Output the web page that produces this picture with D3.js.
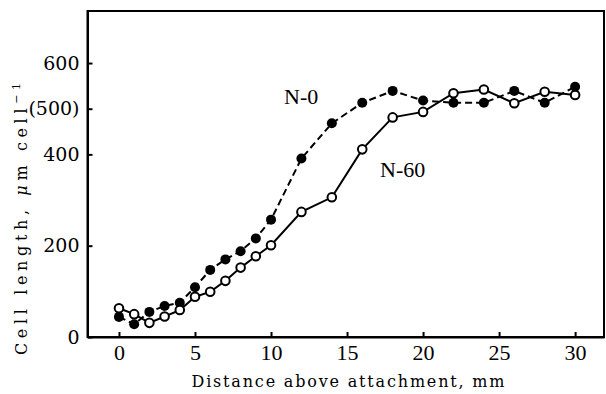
<!DOCTYPE html>
<html>
<head>
<meta charset="utf-8">
<script src="https://cdn.jsdelivr.net/npm/d3@7"></script>
<style>
  body { margin: 0; background: #fff; }
  svg { display: block; }
  .axis path, .axis line { stroke: #000; stroke-width: 2; }
  .axis text { fill: #000; }
  .xaxis text { font-family: "Liberation Serif", serif; font-size: 22px; }
  .yaxis text { font-family: "DejaVu Serif", serif; font-size: 19px; }
  .title { font-family: "DejaVu Serif", serif; font-size: 16px; fill: #000; }
  .label { font-family: "Liberation Serif", serif; font-size: 22px; fill: #000; }
</style>
</head>
<body>
<svg id="chart" width="606" height="394"></svg>
<script>
// distance above attachment (mm)
var distance = [0, 1, 2, 3, 4, 5, 6, 7, 8, 9, 10, 12, 14, 16, 18, 20, 22, 24, 26, 28, 30];
// N-0 (filled circles, dashed)
var n0 = [44, 28, 55, 68, 75, 109, 147, 170, 188, 216, 257, 391, 468, 513, 539, 518, 513, 513, 539, 513, 548];
// N-60 (open circles, solid)
var n60 = [63, 50, 31, 45, 59, 88, 99, 123, 152, 177, 201, 274, 306, 411, 481, 493, 534, 542, 512, 537, 530];

var xTicks = [0, 5, 10, 15, 20, 25, 30];
var yTicks = [0, 200, 400, 500, 600];
var yTickLabels = ['0', '200', '400', '(500)', '600'];

var svg = d3.select('#chart');

var x = d3.scaleLinear().domain([-2.07, 31.9]).range([87.5, 604]);
var y = d3.scaleLinear().domain([0, 714]).range([337, 11]);

// frame (top and right)
svg.append('rect')
    .attr('x', x.range()[0]).attr('y', y.range()[1])
    .attr('width', x.range()[1] - x.range()[0])
    .attr('height', y.range()[0] - y.range()[1])
    .attr('fill', 'none').attr('stroke', '#000').attr('stroke-width', 2);

var xAxis = d3.axisBottom(x).tickValues(xTicks).tickSizeInner(-5).tickSizeOuter(0).tickPadding(7);
svg.append('g').attr('class', 'axis xaxis')
    .attr('transform', 'translate(0,' + y.range()[0] + ')')
    .call(xAxis);

var yAxis = d3.axisLeft(y).tickValues(yTicks).tickSizeInner(-5).tickSizeOuter(0).tickPadding(8)
    .tickFormat((d, i) => yTickLabels[i]);
svg.append('g').attr('class', 'axis yaxis')
    .attr('transform', 'translate(' + x.range()[0] + ',0)')
    .call(yAxis);

// axis titles
svg.append('text').attr('class', 'title')
    .attr('x', 348).attr('y', 387)
    .attr('text-anchor', 'middle')
    .attr('textLength', 313).attr('lengthAdjust', 'spacing')
    .text('Distance above attachment, mm');

var yt = svg.append('text').attr('class', 'title')
    .attr('transform', 'translate(27,355) rotate(-90)')
    .attr('font-size', '17px')
    .attr('textLength', 272).attr('lengthAdjust', 'spacing');
yt.append('tspan').text('Cell length, ');
yt.append('tspan').attr('font-style', 'italic').text('\u03bc');
yt.append('tspan').text('m cell');
yt.append('tspan').attr('font-size', '11px').attr('dy', -7).text('\u22121');

// lines
var pts = (vals) => distance.map((d, i) => ({x: d, y: vals[i]}));
var line = d3.line().x((d) => x(d.x)).y((d) => y(d.y));

svg.append('path').datum(pts(n0))
    .attr('d', line).attr('fill', 'none').attr('stroke', '#000')
    .attr('stroke-width', 2).attr('stroke-dasharray', '7,4');
svg.append('path').datum(pts(n60))
    .attr('d', line).attr('fill', 'none').attr('stroke', '#000')
    .attr('stroke-width', 2);

svg.append('g').selectAll('circle').data(pts(n0)).enter().append('circle')
    .attr('cx', (d) => x(d.x)).attr('cy', (d) => y(d.y)).attr('r', 5)
    .attr('fill', '#000');
svg.append('g').selectAll('circle').data(pts(n60)).enter().append('circle')
    .attr('cx', (d) => x(d.x)).attr('cy', (d) => y(d.y)).attr('r', 4.3)
    .attr('fill', '#fff').attr('stroke', '#000').attr('stroke-width', 2);

// series labels
svg.append('text').attr('class', 'label').attr('x', 284).attr('y', 104).text('N-0');
svg.append('text').attr('class', 'label').attr('x', 380).attr('y', 177).text('N-60');
</script>
</body>
</html>
